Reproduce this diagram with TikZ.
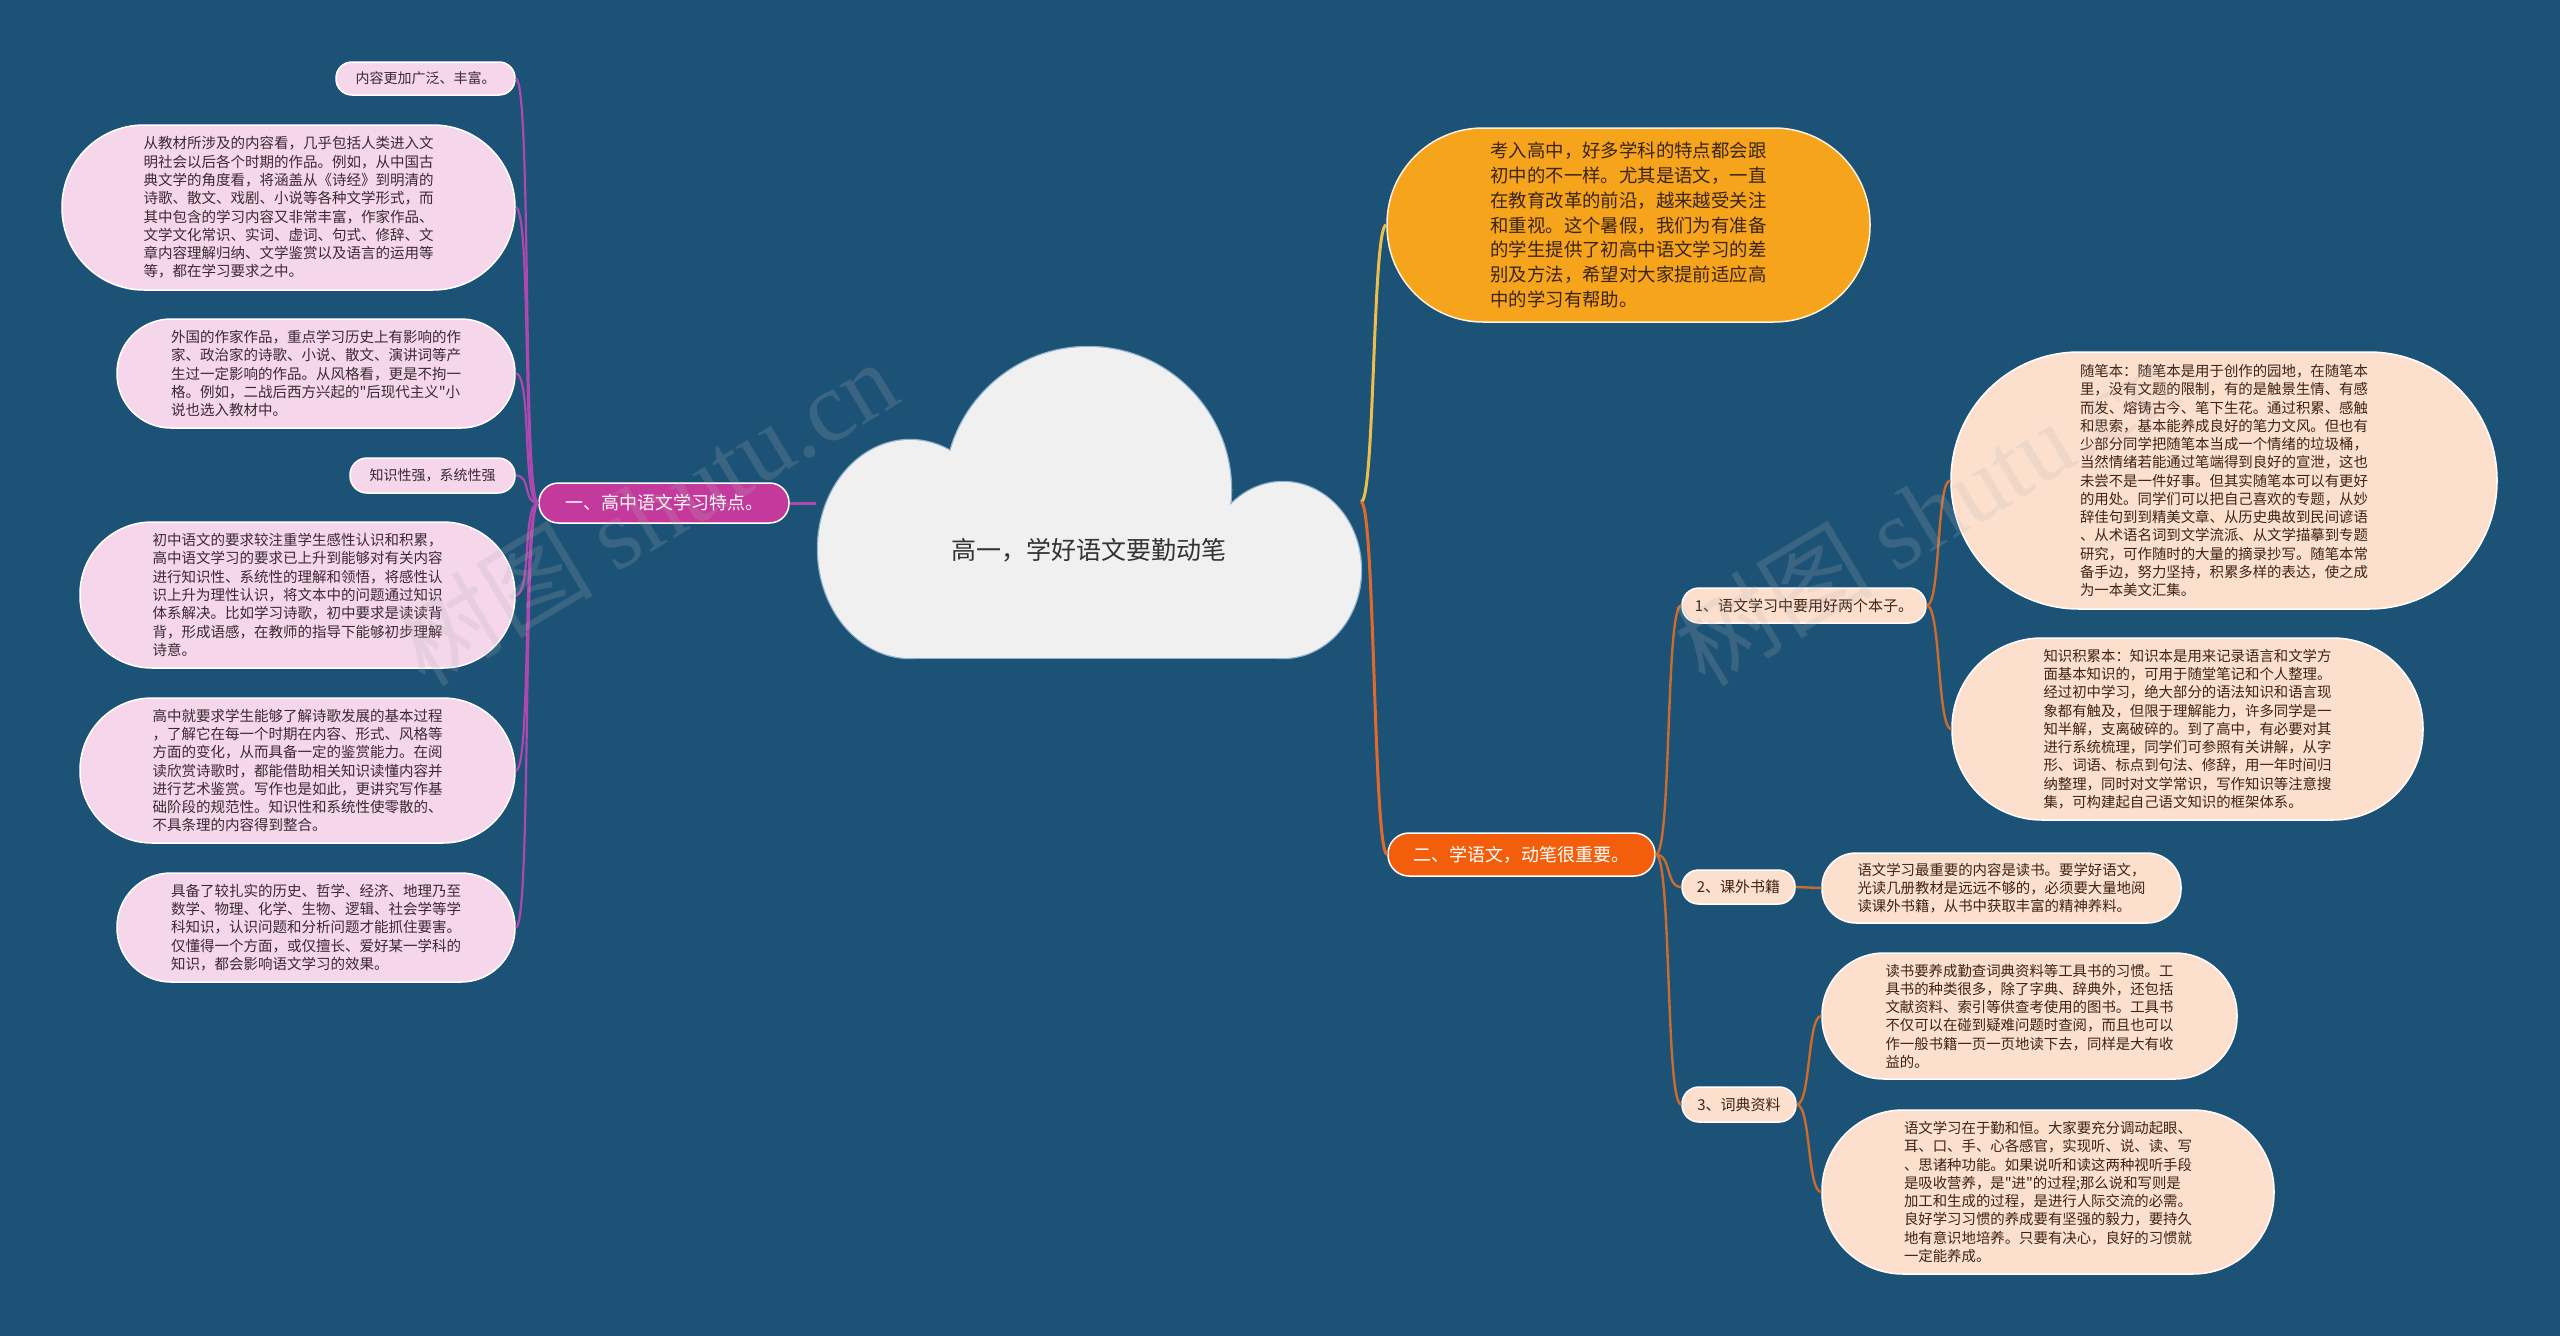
\documentclass[tikz,border=0pt]{standalone}
\usepackage{fontspec}
\setmainfont{Noto Sans CJK SC}
\newfontfamily\cjkmain{Noto Sans CJK SC}
\newfontfamily\wmserif{Liberation Serif}
\definecolor{bg}{HTML}{1B5276}
\definecolor{pinkfill}{HTML}{F5D6EA}
\definecolor{peachfill}{HTML}{FDDFCE}
\definecolor{magnode}{HTML}{C4399C}
\definecolor{orangetop}{HTML}{F7A41D}
\definecolor{orangered}{HTML}{F25E0B}
\definecolor{lineP}{HTML}{AE48AE}
\definecolor{lineY}{HTML}{EDBE4A}
\definecolor{lineO}{HTML}{E2692B}
\definecolor{lineB}{HTML}{CC6B2E}
\definecolor{cloudfill}{HTML}{F0F0F0}
\definecolor{cloudedge}{HTML}{8FB0CC}
\definecolor{txtL}{HTML}{3A2A33}
\definecolor{txtR}{HTML}{3A2518}
\begin{document}
\cjkmain
\begin{tikzpicture}[x=1pt,y=-1pt,
  pill/.style n args={3}{rectangle, draw=white, line width=1.5pt, rounded corners=#3,
     minimum width=#1, minimum height=#2, inner sep=0pt, align=left},
  leafL/.style={fill=pinkfill, text=txtL, font=\cjkmain\fontsize{14.5}{18.3}\selectfont},
  leafR/.style={fill=peachfill, text=txtR, font=\cjkmain\fontsize{14.4}{18.25}\selectfont},
  subR/.style={fill=peachfill, text=txtR, font=\cjkmain\fontsize{15}{18}\selectfont},
  lnL/.style={draw=lineP, line width=2.2pt},
  lnR/.style={draw=lineB, line width=2.4pt},
  wm/.style={rotate=31, text=gray!60, opacity=0.2},
  cloudpart/.style={fill=cloudfill},
  cloudline/.style={draw=cloudedge, line width=2.5pt}
]
\useasboundingbox (0,0) rectangle (2560,1336);
\fill[bg] (0,0) rectangle (2560,1336);

% anchor points of the central cloud
\coordinate (cW) at (816,503);
\coordinate (cE) at (1361,502);

% ---------- nodes ----------
% left main branch
\node[pill={250}{40}{19.5pt}, fill=magnode, text=white, font=\cjkmain\fontsize{18}{20}\selectfont] (M) at (664,503) {一、高中语文学习特点。};

\node[pill={179}{33}{16pt}, leafL, font=\cjkmain\fontsize{14}{18}\selectfont] (L1) at (425.5,78.5) {内容更加广泛、丰富。};
\node[pill={453}{165}{82pt}, leafL] (L2) at (288.5,207.5) {从教材所涉及的内容看，几乎包括人类进入文\\明社会以后各个时期的作品。例如，从中国古\\典文学的角度看，将涵盖从《诗经》到明清的\\诗歌、散文、戏剧、小说等各种文学形式，而\\其中包含的学习内容又非常丰富，作家作品、\\文学文化常识、实词、虚词、句式、修辞、文\\章内容理解归纳、文学鉴赏以及语言的运用等\\等，都在学习要求之中。};
\node[pill={398}{109}{54pt}, leafL] (L3) at (316,373.5) {外国的作家作品，重点学习历史上有影响的作\\家、政治家的诗歌、小说、散文、演讲词等产\\生过一定影响的作品。从风格看，更是不拘一\\格。例如，二战后西方兴起的"后现代主义"小\\说也选入教材中。};
\node[pill={165}{35}{17pt}, leafL, font=\cjkmain\fontsize{14}{18}\selectfont] (L4) at (432.5,475.5) {知识性强，系统性强};
\node[pill={435}{146}{72pt}, leafL] (L5) at (297.5,595) {初中语文的要求较注重学生感性认识和积累，\\高中语文学习的要求已上升到能够对有关内容\\进行知识性、系统性的理解和领悟，将感性认\\识上升为理性认识，将文本中的问题通过知识\\体系解决。比如学习诗歌，初中要求是读读背\\背，形成语感，在教师的指导下能够初步理解\\诗意。};
\node[pill={435}{145}{72pt}, leafL] (L6) at (297.5,770.5) {高中就要求学生能够了解诗歌发展的基本过程\\，了解它在每一个时期在内容、形式、风格等\\方面的变化，从而具备一定的鉴赏能力。在阅\\读欣赏诗歌时，都能借助相关知识读懂内容并\\进行艺术鉴赏。写作也是如此，更讲究写作基\\础阶段的规范性。知识性和系统性使零散的、\\不具条理的内容得到整合。};
\node[pill={398}{109}{54pt}, leafL] (L7) at (316,927.5) {具备了较扎实的历史、哲学、经济、地理乃至\\数学、物理、化学、生物、逻辑、社会学等学\\科知识，认识问题和分析问题才能抓住要害。\\仅懂得一个方面，或仅擅长、爱好某一学科的\\知识，都会影响语文学习的效果。};

% right branches
\node[pill={483}{194}{96pt}, fill=orangetop, draw=white!85!orangetop, text=txtR, font=\cjkmain\fontsize{18.4}{24.7}\selectfont] (O) at (1628.5,225) {考入高中，好多学科的特点都会跟\\初中的不一样。尤其是语文，一直\\在教育改革的前沿，越来越受关注\\和重视。这个暑假，我们为有准备\\的学生提供了初高中语文学习的差\\别及方法，希望对大家提前适应高\\中的学习有帮助。};
\node[pill={267}{43}{21pt}, fill=orangered, text=white, font=\cjkmain\fontsize{18}{20}\selectfont] (R) at (1521.5,854.5) {二、学语文，动笔很重要。};

\node[pill={244}{35}{17pt}, subR] (S1) at (1804,605.5) {1、语文学习中要用好两个本子。};
\node[pill={113}{34}{16.5pt}, subR] (S2) at (1738.5,887) {2、课外书籍};
\node[pill={114}{35}{17pt}, subR] (S3) at (1739,1104.5) {3、词典资料};

\node[pill={546}{257}{128pt}, leafR] (T1) at (2224,480.5) {随笔本：随笔本是用于创作的园地，在随笔本\\里，没有文题的限制，有的是触景生情、有感\\而发、熔铸古今、笔下生花。通过积累、感触\\和思索，基本能养成良好的笔力文风。但也有\\少部分同学把随笔本当成一个情绪的垃圾桶，\\当然情绪若能通过笔端得到良好的宣泄，这也\\未尝不是一件好事。但其实随笔本可以有更好\\的用处。同学们可以把自己喜欢的专题，从妙\\辞佳句到到精美文章、从历史典故到民间谚语\\、从术语名词到文学流派、从文学描摹到专题\\研究，可作随时的大量的摘录抄写。随笔本常\\备手边，努力坚持，积累多样的表达，使之成\\为一本美文汇集。};
\node[pill={471}{182}{90pt}, leafR] (T2) at (2187.5,729) {知识积累本：知识本是用来记录语言和文学方\\面基本知识的，可用于随堂笔记和个人整理。\\经过初中学习，绝大部分的语法知识和语言现\\象都有触及，但限于理解能力，许多同学是一\\知半解，支离破碎的。到了高中，有必要对其\\进行系统梳理，同学们可参照有关讲解，从字\\形、词语、标点到句法、修辞，用一年时间归\\纳整理，同时对文学常识，写作知识等注意搜\\集，可构建起自己语文知识的框架体系。};
\node[pill={359}{70}{34pt}, leafR] (T3) at (2001.5,888) {语文学习最重要的内容是读书。要学好语文，\\光读几册教材是远远不够的，必须要大量地阅\\读课外书籍，从书中获取丰富的精神养料。};
\node[pill={415}{126}{62pt}, leafR] (T4) at (2029.5,1016) {读书要养成勤查词典资料等工具书的习惯。工\\具书的种类很多，除了字典、辞典外，还包括\\文献资料、索引等供查考使用的图书。工具书\\不仅可以在碰到疑难问题时查阅，而且也可以\\作一般书籍一页一页地读下去，同样是大有收\\益的。};
\node[pill={452}{164}{81pt}, leafR] (T5) at (2048,1192) {语文学习在于勤和恒。大家要充分调动起眼、\\耳、口、手、心各感官，实现听、说、读、写\\、思诸种功能。如果说听和读这两种视听手段\\是吸收营养，是"进"的过程;那么说和写则是\\加工和生成的过程，是进行人际交流的必需。\\良好学习习惯的养成要有坚强的毅力，要持久\\地有意识地培养。只要有决心，良好的习惯就\\一定能养成。};

% ---------- connectors ----------
\draw[draw=lineP, line width=3pt] (M.east) -- (cW);
\foreach \n in {L1,L2,L3,L4,L5,L6,L7}
  \draw[lnL] (M.west) .. controls +(-16,0) and +(16,0) .. (\n.east);
\draw[draw=lineY, line width=3pt] (cE) .. controls +(14,0) and +(-14,0) .. (O.west);
\draw[draw=lineO, line width=3pt] (cE) .. controls +(14,0) and +(-14,0) .. (R.west);
\foreach \n in {S1,S2,S3}
  \draw[lnR] (R.east) .. controls +(16,0) and +(-16,0) .. (\n.west);
\foreach \n in {T1,T2}
  \draw[lnR] (S1.east) .. controls +(14,0) and +(-14,0) .. (\n.west);
\draw[lnR] (S2.east) -- (T3.west);
\foreach \n in {T4,T5}
  \draw[lnR] (S3.east) .. controls +(14,0) and +(-14,0) .. (\n.west);

% ---------- central cloud (outline first, then fill each lobe) ----------
\draw[cloudline] (910,549) ellipse [x radius=92, y radius=109];
\draw[cloudline] (1088,490) circle [radius=143];
\draw[cloudline] (1283,570) ellipse [x radius=78, y radius=88];
\draw[cloudline] (910,505) rectangle (1283,658);
\fill[cloudpart] (910,549) ellipse [x radius=92, y radius=109];
\fill[cloudpart] (1088,490) circle [radius=143];
\fill[cloudpart] (1283,570) ellipse [x radius=78, y radius=88];
\fill[cloudpart] (910,505) rectangle (1283,658);
\node[text=black!80, font=\cjkmain\fontsize{25}{28}\selectfont] (root) at (1089,550) {高一，学好语文要勤动笔};

% ---------- watermarks ----------
\node[wm, font=\cjkmain\fontsize{100}{100}\selectfont] (wm1) at (645,512) {树图 {\wmserif shutu.cn}};
\node[wm, font=\cjkmain\fontsize{100}{100}\selectfont] (wm2) at (1925,512) {树图 {\wmserif shutu.cn}};
\end{tikzpicture}
\end{document}
